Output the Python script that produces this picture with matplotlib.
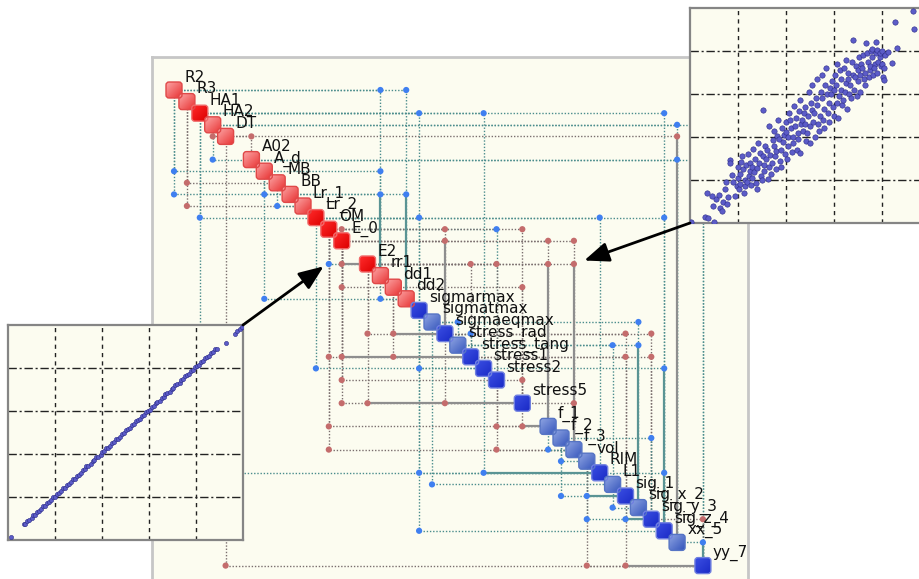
import numpy as np
import matplotlib.pyplot as plt
from matplotlib.patches import FancyBboxPatch, ConnectionPatch, ArrowStyle
from matplotlib.transforms import offset_copy
from matplotlib.colors import to_rgb

# nodes on the diagonal, slot index is both row and column
node_names = ['R2', 'R3', 'HA1', 'HA2', 'DT', 'A02', 'A_d', 'MB', 'BB', 'Lr_1', 'Lr_2',
              'OM', 'E_0', 'E2', 'rr1', 'dd1', 'dd2', 'sigmarmax', 'sigmatmax',
              'sigmaeqmax', 'stress_rad', 'stress_tang', 'stress1', 'stress2', 'stress5',
              'f_1', 'f_2', 'f_3', 'vol', 'RIM', 'L1', 'sig_1', 'sig_x_2', 'sig_y_3',
              'sig_z_4', 'xx_5', 'yy_7']
node_slots = [0, 1, 2, 3, 4, 6, 7, 8, 9, 10, 11, 12, 13, 15, 16, 17, 18, 19, 20, 21, 22,
              23, 24, 25, 27, 29, 30, 31, 32, 33, 34, 35, 36, 37, 38, 39, 41]
node_filled = [0, 0, 1, 0, 0, 0, 0, 0, 0, 0, 1, 1, 1, 1, 0, 0, 0,
               1, 0, 1, 0, 1, 1, 1, 1, 0, 0, 0, 0, 1, 0, 1, 0, 1, 1, 0, 1]
n_inputs = 17  # first 17 nodes are red, the rest blue

# links: (row slot, column slot, 'b' blue / 'r' red, solid leg)
links = [(0, 16, 'b', 0), (0, 18, 'b', 0),
         (2, 19, 'b', 0), (2, 24, 'b', 0), (2, 38, 'b', 0),
         (3, 39, 'b', 0), (3, 41, 'b', 0),
         (4, 3, 'r', 0), (4, 6, 'r', 0), (4, 39, 'r', 1),
         (6, 3, 'b', 0), (6, 39, 'b', 0), (6, 41, 'b', 0),
         (7, 0, 'b', 0), (7, 16, 'b', 0),
         (8, 1, 'r', 0),
         (9, 0, 'b', 0), (9, 7, 'b', 0), (9, 16, 'b', 1), (9, 18, 'b', 1),
         (10, 1, 'r', 0), (10, 8, 'b', 0),
         (11, 2, 'b', 0), (11, 19, 'b', 0), (11, 33, 'b', 0), (11, 38, 'b', 0),
         (12, 13, 'r', 0), (12, 21, 'r', 0), (12, 25, 'b', 0), (12, 27, 'r', 0),
         (13, 21, 'r', 1), (13, 29, 'r', 0), (13, 31, 'r', 0),
         (15, 12, 'b', 0), (15, 13, 'r', 1), (15, 23, 'r', 0), (15, 25, 'r', 0),
         (15, 29, 'r', 1), (15, 31, 'r', 1),
         (17, 13, 'r', 0), (17, 27, 'r', 0),
         (18, 7, 'b', 0), (18, 16, 'b', 0),
         (20, 22, 'b', 0), (20, 36, 'b', 0),
         (21, 15, 'r', 0), (21, 17, 'r', 1), (21, 23, 'b', 0), (21, 35, 'r', 0), (21, 37, 'r', 0),
         (22, 34, 'b', 0), (22, 36, 'b', 1),
         (23, 12, 'r', 0), (23, 13, 'r', 1), (23, 17, 'r', 0), (23, 35, 'r', 0), (23, 37, 'r', 0),
         (24, 11, 'b', 0), (24, 19, 'b', 0), (24, 38, 'b', 1),
         (25, 13, 'r', 0), (25, 27, 'r', 0),
         (27, 13, 'r', 0), (27, 15, 'r', 1), (27, 21, 'r', 0), (27, 31, 'r', 0),
         (29, 12, 'r', 0), (29, 25, 'r', 0), (29, 27, 'r', 1),
         (30, 37, 'b', 0),
         (31, 12, 'r', 0), (31, 25, 'r', 0), (31, 29, 'b', 0),
         (32, 30, 'b', 0),
         (33, 2, 'b', 0), (33, 19, 'b', 0), (33, 24, 'b', 1), (33, 38, 'b', 0),
         (34, 20, 'b', 0),
         (35, 30, 'b', 0), (35, 32, 'b', 1),
         (36, 34, 'b', 0),
         (37, 32, 'b', 0), (37, 35, 'b', 1), (37, 41, 'r', 0),
         (38, 19, 'b', 0),
         (39, 41, 'b', 1),
         (41, 4, 'r', 0), (41, 32, 'r', 0), (41, 35, 'r', 1)]

# scatter cloud of the upper inset
cloud_pts = [(0.03, 0.03), (0.31, 0.15), (0.37, 0.12), (0.49, 0.03), (0.35, 0.70), (0.54, 0.55),
             (0.48, 0.40), (0.62, 0.35), (0.60, 0.65), (0.68, 0.50), (0.72, 0.78), (0.66, 0.28),
             (0.78, 0.45), (0.83, 1.47), (0.84, 1.39), (0.80, 0.60), (0.88, 1.12), (0.90, 0.95),
             (0.94, 0.62), (0.97, 0.85), (0.45, 0.62), (0.75, 0.95),
             (1.00, 1.30), (1.02, 0.78), (0.99, 1.05), (1.05, 0.90), (1.07, 1.42), (1.04, 1.15),
             (1.10, 1.25), (1.12, 0.70), (1.09, 1.55), (1.15, 1.00), (1.17, 1.35), (1.14, 0.85),
             (1.20, 1.60), (1.22, 1.10), (1.19, 0.95), (1.25, 1.40), (1.27, 0.88), (1.24, 1.22),
             (1.30, 1.05), (1.32, 1.72), (1.29, 1.30), (1.35, 1.50), (1.37, 0.92), (1.34, 1.18),
             (1.40, 1.28), (1.42, 1.85), (1.39, 0.80), (1.45, 1.62), (1.47, 1.10), (1.44, 1.40),
             (1.50, 1.00), (1.52, 1.55), (1.52, 2.63), (1.55, 1.35), (1.57, 1.80), (1.54, 1.20),
             (1.60, 1.70), (1.62, 1.02), (1.59, 1.48), (1.65, 2.25), (1.67, 1.58), (1.64, 1.30),
             (1.70, 1.40), (1.72, 1.92), (1.69, 1.15), (1.75, 1.78), (1.77, 1.55), (1.74, 2.15),
             (1.80, 1.25), (1.82, 2.02), (1.79, 1.68), (1.85, 1.95), (1.87, 1.45), (1.84, 2.40),
             (1.90, 1.70), (1.92, 2.20), (1.89, 1.30), (1.95, 2.05), (1.97, 1.60), (1.94, 1.88),
             (2.00, 2.35), (2.02, 1.50), (1.99, 2.12), (2.05, 1.80), (2.07, 2.55), (2.04, 2.00),
             (2.10, 2.20), (2.12, 1.65), (2.09, 2.40), (2.15, 2.00), (2.17, 2.72), (2.14, 1.85),
             (2.20, 2.45), (2.22, 1.70), (2.19, 2.25), (2.25, 2.10), (2.27, 2.60), (2.24, 1.95),
             (2.30, 2.85), (2.32, 2.30), (2.29, 1.62), (2.35, 2.15), (2.37, 2.55), (2.34, 2.40),
             (2.40, 2.70), (2.42, 1.90), (2.39, 2.30), (2.45, 2.48), (2.47, 3.05), (2.44, 2.10),
             (2.50, 2.25), (2.52, 2.80), (2.49, 1.85), (2.55, 2.62), (2.57, 2.35), (2.54, 3.20),
             (2.60, 2.00), (2.62, 2.90), (2.59, 2.55), (2.65, 2.75), (2.67, 2.30), (2.64, 3.35),
             (2.70, 2.50), (2.72, 3.05), (2.69, 2.15), (2.75, 2.90), (2.77, 2.40), (2.74, 3.45),
             (2.80, 2.65), (2.82, 3.20), (2.79, 2.20), (2.85, 3.00), (2.87, 2.55), (2.84, 3.60),
             (2.90, 2.35), (2.92, 3.15), (2.89, 2.80), (2.95, 3.30), (2.97, 2.70), (2.94, 3.00),
             (3.00, 2.50), (3.02, 3.45), (2.99, 3.10), (3.05, 3.20), (3.07, 2.80), (3.06, 3.70),
             (3.10, 2.95), (3.12, 3.55), (3.09, 2.45), (3.15, 3.35), (3.17, 2.75), (3.14, 3.10),
             (3.20, 3.60), (3.22, 3.05), (3.19, 2.85), (3.25, 3.25), (3.27, 2.65), (3.24, 3.80),
             (3.30, 3.50), (3.32, 3.00), (3.29, 3.35), (3.35, 2.90), (3.37, 3.75), (3.34, 3.20),
             (3.40, 3.45), (3.42, 3.10), (3.40, 4.26), (3.45, 3.65), (3.47, 2.95), (3.44, 3.40),
             (3.50, 3.30), (3.52, 3.85), (3.49, 3.55), (3.55, 3.05), (3.57, 3.70), (3.54, 3.45),
             (3.60, 3.90), (3.62, 3.35), (3.59, 3.60), (3.65, 3.50), (3.67, 4.18), (3.64, 3.20),
             (3.70, 3.75), (3.72, 3.40), (3.69, 3.95), (3.75, 3.55), (3.77, 4.00), (3.74, 3.65),
             (3.80, 3.85), (3.82, 3.45), (3.79, 4.05), (3.85, 3.70), (3.87, 3.95), (3.84, 3.60),
             (3.90, 4.02), (3.92, 3.75), (3.89, 3.50), (3.95, 3.85), (3.97, 3.65), (3.96, 3.95),
             (4.00, 3.70), (4.02, 3.40), (4.01, 4.00), (4.05, 3.33), (4.06, 3.90), (4.04, 3.60),
             (4.27, 4.67), (4.64, 4.94), (4.67, 4.52), (4.32, 4.08), (4.12, 3.98), (4.20, 3.72),
             (3.88, 4.20)]

# near-linear cloud of the lower inset
line_pts = [(0.06, 0.08), (0.33, 0.37), (0.37, 0.38), (0.41, 0.45), (0.45, 0.47), (0.50, 0.52),
            (0.54, 0.58), (0.58, 0.59), (0.62, 0.66), (0.66, 0.68), (0.71, 0.72), (0.75, 0.79),
            (0.79, 0.80), (0.83, 0.87), (0.87, 0.89), (0.92, 0.93), (0.96, 1.00), (1.00, 1.01),
            (1.04, 1.08), (1.08, 1.10), (1.13, 1.14), (1.17, 1.21), (1.21, 1.22), (1.25, 1.29),
            (1.29, 1.31), (1.34, 1.35), (1.38, 1.42), (1.42, 1.43), (1.46, 1.50), (1.50, 1.52),
            (1.55, 1.56), (1.59, 1.63), (1.63, 1.64), (1.67, 1.71), (1.71, 1.73), (1.76, 1.77),
            (1.80, 1.84), (1.84, 1.85), (1.88, 1.92), (1.92, 1.94), (1.97, 1.98), (2.01, 2.05),
            (2.05, 2.06), (2.09, 2.13), (2.13, 2.15), (2.18, 2.19), (2.22, 2.26), (2.26, 2.27),
            (2.30, 2.34), (2.34, 2.36), (2.39, 2.40), (2.43, 2.47), (2.47, 2.48), (2.51, 2.55),
            (2.55, 2.57), (2.60, 2.61), (2.64, 2.68), (2.68, 2.69), (2.72, 2.76), (2.76, 2.78),
            (2.81, 2.82), (2.85, 2.89), (2.89, 2.90), (2.93, 2.97), (2.97, 2.99), (3.02, 3.03),
            (3.06, 3.10), (3.10, 3.11), (3.14, 3.18), (3.18, 3.20), (3.23, 3.24), (3.27, 3.31),
            (3.31, 3.32), (3.35, 3.39), (3.39, 3.41), (3.44, 3.45), (3.48, 3.52), (3.52, 3.53),
            (3.56, 3.60), (3.60, 3.62), (3.65, 3.66), (3.69, 3.73), (3.73, 3.74), (3.77, 3.81),
            (3.81, 3.83), (3.86, 3.87), (3.90, 3.94), (3.94, 3.95), (3.98, 4.02), (4.02, 4.04),
            (4.07, 4.08), (4.11, 4.15), (4.15, 4.16), (4.19, 4.23), (4.23, 4.25), (4.28, 4.29),
            (4.32, 4.36), (4.36, 4.37), (4.40, 4.44), (4.45, 4.44), (4.64, 4.59), (4.84, 4.80),
            (4.88, 4.86), (4.93, 4.90), (4.97, 4.95)]

# ---- layout (pixels of a 919x579 canvas) ----
W, H = 919, 579
X0, DX = 174.0, 12.9     # pixel x of slot 0 and step
Y0, DY = 90.0, 11.6      # pixel y of slot 0 and step
IVORY = '#fcfcf0'


def fig_rect(x0, y0, x1, y1):
    return [x0 / W, 1 - y1 / H, (x1 - x0) / W, (y1 - y0) / H]


fig = plt.figure(figsize=(W / 100, H / 100), dpi=100, facecolor='white')

ax = fig.add_axes(fig_rect(152, 57, 748, 595))
ax.set_facecolor(IVORY)
ax.set_xticks([])
ax.set_yticks([])
for sp in ax.spines.values():
    sp.set_color('#c6c6c6')
    sp.set_linewidth(2)

line_col = {'b': '#4a8c8c', 'r': '#7a6e6e'}
solid_col = {'b': '#5a9494', 'r': '#8e8e8e'}
dot_col = {'b': '#3f7ff0', 'r': '#c46c6c'}

for r, c, k, s in links:
    hseg = ([r, c], [r, r])
    vseg = ([c, c], [c, r])
    upper = c > r
    for seg, is_solid in ((hseg, s and not upper), (vseg, s and upper)):
        if is_solid:
            ax.plot(*seg, color=solid_col[k], lw=1.6, zorder=2, solid_capstyle='butt')
        else:
            ax.plot(*seg, color=line_col[k], lw=1.0, ls=(0, (1, 1.3)), zorder=1)

for k in 'br':
    sel = [(c, r) for r, c, kk, s in links if kk == k]
    xs, ys = zip(*sel)
    ax.scatter(xs, ys, s=20, color=dot_col[k], edgecolors='none', zorder=3)

# node squares with a soft gradient (top-left colour, bottom-right colour, edge)
styles = {
    ('r', 0): ('#fca4a4', '#e83232', '#e04848'),
    ('r', 1): ('#ff2a2a', '#dc0000', '#f06a6a'),
    ('b', 0): ('#8ea4e2', '#3656bc', '#5674c4'),
    ('b', 1): ('#3a4ee2', '#1a2ac6', '#7080e0'),
}
t = np.linspace(0, 1, 20)
grad = (t[None, :] + t[:, None]) / 2
nw, nh = 16 / DX, 16 / DY
for i, (name, slot, filled) in enumerate(zip(node_names, node_slots, node_filled)):
    grp = 'r' if i < n_inputs else 'b'
    c1, c2, ec = styles[(grp, filled)]
    rgb = (np.array(to_rgb(c1))[None, None, :] * (1 - grad[..., None])
           + np.array(to_rgb(c2))[None, None, :] * grad[..., None])
    box = FancyBboxPatch((slot - nw / 2, slot - nh / 2), nw, nh,
                         boxstyle='round,pad=0,rounding_size=%.3f' % (3 / DX),
                         mutation_aspect=DX / DY, fc='none', ec=ec, lw=1.0, zorder=5)
    ax.add_patch(box)
    im = ax.imshow(rgb, extent=(slot - nw / 2, slot + nw / 2, slot + nh / 2, slot - nh / 2),
                   origin='upper', aspect='auto', interpolation='bilinear', zorder=4)
    im.set_clip_path(box)
    ax.text(slot, slot, name, transform=offset_copy(ax.transData, fig, x=10, y=8.5, units='dots'),
            ha='left', va='baseline', fontsize=11, color='#111111', zorder=6)

ax.set_xlim((152 - X0) / DX, (748 - X0) / DX)
ax.set_ylim((595 - Y0) / DY, (57 - Y0) / DY)


def make_inset(rect, pts, size):
    ins = fig.add_axes(fig_rect(*rect), zorder=5)
    ins.set_facecolor(IVORY)
    ins.set_xlim(0, 5)
    ins.set_ylim(0, 5)
    ins.set_xticks([1, 2, 3, 4])
    ins.set_yticks([1, 2, 3, 4])
    ins.tick_params(length=0, labelbottom=False, labelleft=False)
    ins.xaxis.grid(True, color='#222222', lw=1.0, ls=(0, (3, 3)))
    ins.yaxis.grid(True, color='#222222', lw=1.0, ls=(0, (6, 2, 1.5, 2)))
    ins.set_axisbelow(True)
    for sp in ins.spines.values():
        sp.set_color('#858585')
        sp.set_linewidth(1.6)
    px, py = np.array(pts).T
    ins.scatter(px, py, s=size, color='#5c5cc8', edgecolors='#2c2c88', linewidths=0.4, zorder=3)
    return ins


ins_top = make_inset((690, 8, 930, 223), cloud_pts, 15)
ins_low = make_inset((8, 325, 243, 540), line_pts, 9)

head = ArrowStyle('-|>', head_length=1.0, head_width=0.4)
for ins, corner, target in ((ins_top, (0, 0), (31.8, 14.7)), (ins_low, (1, 1), (11.6, 15.2))):
    arr = ConnectionPatch(xyA=corner, coordsA=ins.transAxes, xyB=target, coordsB=ax.transData,
                          arrowstyle=head, mutation_scale=15, lw=2, color='black',
                          shrinkA=0, shrinkB=0, zorder=10)
    fig.add_artist(arr)

fig.savefig('out.png', dpi=100, facecolor='white')
